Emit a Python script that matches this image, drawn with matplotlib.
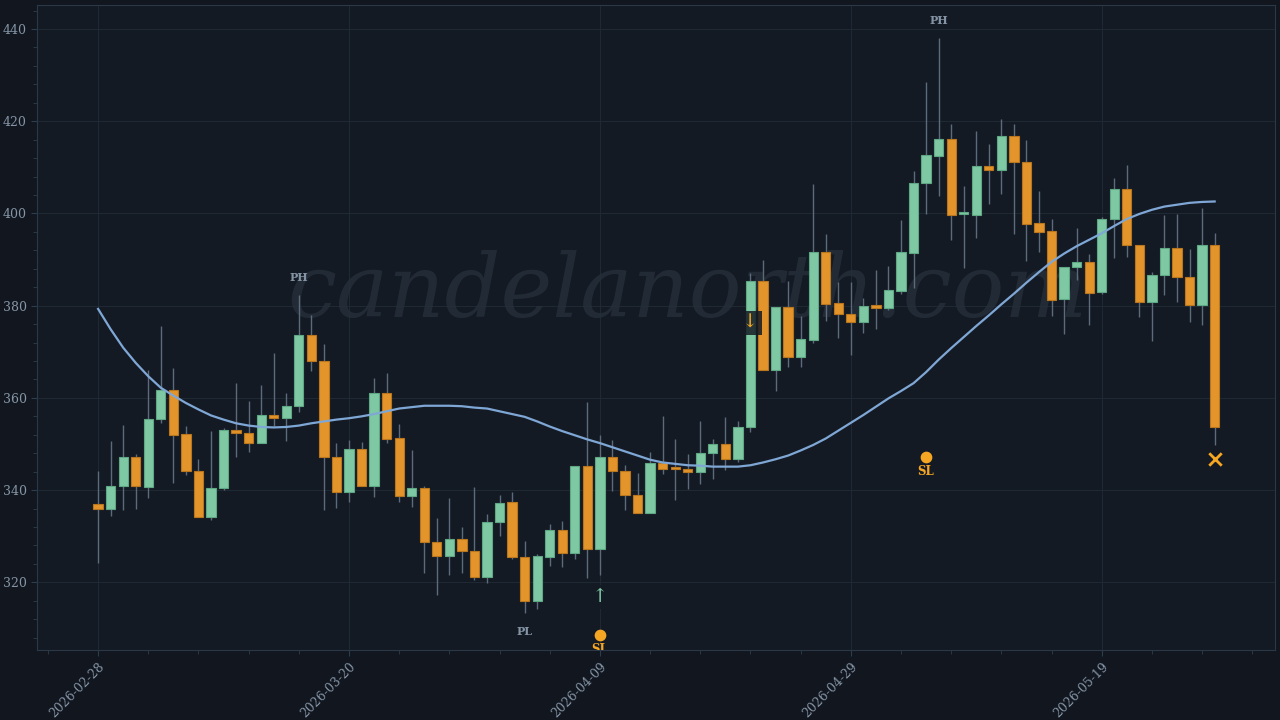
import numpy as np
import pandas as pd
import matplotlib
matplotlib.use("Agg")
import matplotlib.pyplot as plt
import matplotlib.dates as mdates

# daily OHLC, 2026-02-28 .. 2026-05-28
dates = pd.date_range("2026-02-28", periods=90, freq="D")

opens = [337.1, 336.0, 340.9, 347.1, 340.7, 355.4, 361.7, 352.1, 344.2, 334.2,
         340.4, 353.0, 352.3, 350.3, 356.4, 355.6, 358.2, 373.7, 368.1, 347.1,
         339.5, 348.9, 340.8, 361.1, 351.3, 338.8, 340.4, 328.7, 325.8, 329.3,
         326.8, 321.2, 333.2, 337.4, 325.6, 316.0, 325.6, 331.3, 326.3, 345.2,
         327.2, 347.2, 344.2, 339.0, 335.0, 345.8, 344.7, 344.6, 343.9, 348.0,
         349.9, 346.8, 353.6, 385.3, 366.1, 379.8, 368.8, 372.5, 391.7, 380.5,
         378.3, 376.4, 380.0, 379.4, 383.1, 391.5, 406.7, 412.5, 416.1, 399.8,
         399.7, 410.4, 409.4, 416.7, 411.2, 398.0, 396.1, 381.4, 388.4, 389.5,
         382.9, 398.8, 405.2, 393.2, 380.8, 386.6, 392.6, 386.3, 380.2, 393.2]
highs = [344.2, 350.7, 354.1, 347.8, 366.0, 375.5, 366.4, 354.0, 346.7, 352.8,
         353.5, 363.3, 359.3, 362.9, 369.8, 361.0, 382.3, 378.0, 371.6, 350.3,
         350.9, 350.4, 364.4, 365.5, 354.4, 348.7, 341.0, 334.0, 338.3, 331.9,
         340.6, 334.9, 338.9, 339.7, 328.9, 326.2, 332.6, 333.3, 345.2, 359.1,
         351.9, 350.9, 345.4, 343.8, 348.3, 356.0, 351.1, 347.8, 355.1, 351.2,
         355.9, 355.1, 387.1, 390.0, 379.8, 385.3, 377.8, 406.4, 395.5, 385.2,
         385.2, 381.6, 387.8, 388.6, 398.6, 409.2, 428.5, 438.0, 419.4, 406.0,
         417.9, 415.1, 420.5, 419.4, 415.9, 404.9, 398.9, 388.4, 396.9, 391.3,
         399.2, 407.6, 410.5, 393.2, 387.3, 399.6, 399.9, 392.4, 401.2, 395.8]
lows = [324.1, 334.3, 335.6, 336.0, 338.4, 354.5, 341.6, 343.2, 334.2, 333.6,
        340.1, 347.1, 348.3, 350.3, 354.0, 350.6, 357.0, 365.8, 335.8, 336.1,
        337.5, 340.8, 338.5, 350.2, 337.5, 336.4, 322.1, 317.3, 321.7, 322.0,
        320.6, 319.8, 330.0, 325.1, 313.4, 314.3, 323.6, 323.3, 325.0, 320.9,
        321.6, 339.8, 335.6, 335.0, 335.0, 343.4, 337.8, 340.2, 341.4, 342.4,
        344.3, 346.2, 352.7, 366.1, 361.6, 366.6, 366.7, 371.9, 376.6, 373.1,
        369.3, 374.0, 374.9, 379.1, 382.5, 383.8, 399.9, 403.8, 394.3, 388.2,
        394.6, 402.1, 404.3, 395.6, 389.7, 391.6, 377.8, 373.9, 385.6, 375.9,
        382.6, 390.3, 390.6, 377.5, 372.3, 382.4, 380.9, 376.5, 375.8, 349.7]
closes = [336.0, 340.9, 347.1, 340.9, 355.5, 361.7, 352.0, 344.1, 334.2, 340.4,
          353.0, 352.3, 350.3, 356.4, 355.6, 358.3, 373.7, 368.1, 347.1, 339.5,
          348.9, 340.8, 361.1, 351.2, 338.8, 340.4, 328.7, 325.8, 329.3, 326.7,
          321.2, 333.2, 337.3, 325.4, 316.0, 325.8, 331.3, 326.3, 345.2, 327.2,
          347.2, 344.1, 338.9, 335.0, 345.8, 344.6, 344.5, 343.9, 348.1, 349.9,
          346.8, 353.6, 385.3, 366.1, 379.8, 368.8, 372.7, 391.7, 380.4, 378.3,
          376.4, 380.0, 379.6, 383.4, 391.7, 406.7, 412.6, 416.1, 399.7, 400.0,
          410.4, 409.4, 416.7, 411.1, 397.8, 395.9, 381.3, 388.5, 389.5, 382.8,
          398.8, 405.2, 393.2, 380.8, 386.7, 392.6, 386.2, 380.2, 393.2, 353.7]

# trend line (moving average) as drawn
ma = [379.3, 374.9, 370.9, 367.6, 364.7, 362.2, 360.5, 358.9, 357.5, 356.2,
      355.3, 354.5, 354.0, 353.7, 353.6, 353.7, 354.0, 354.5, 354.9, 355.3,
      355.6, 356.0, 356.5, 357.1, 357.7, 358.0, 358.3, 358.3, 358.3, 358.2,
      357.9, 357.7, 357.1, 356.5, 355.9, 354.9, 353.8, 352.8, 351.9, 351.0,
      350.2, 349.3, 348.4, 347.5, 346.6, 346.0, 345.7, 345.4, 345.3, 345.1,
      345.1, 345.1, 345.4, 346.0, 346.7, 347.5, 348.6, 349.8, 351.2, 352.9,
      354.6, 356.3, 358.1, 359.9, 361.5, 363.2, 365.6, 368.3, 370.8, 373.2,
      375.6, 377.9, 380.3, 382.6, 385.0, 387.3, 389.5, 391.3, 392.9, 394.3,
      395.7, 397.3, 398.8, 399.9, 400.8, 401.5, 401.9, 402.3, 402.5, 402.6]

# pivots and signals
ph_idx = [16, 67]
pl_idx = [34]
long_idx = [40]
short_idx = [52]
sl_idx = [40, 66]
sl_val = [308.5, 347.2]
exit_idx = [89]
exit_val = [346.8]

BG = "#11161f"
AX_BG = "#141a24"
GRID = "#1e2934"
TXT = "#8595a6"
GREEN = "#7ec8a4"
ORANGE = "#e3952b"
SIGNAL = "#f5a623"

plt.rcParams["font.family"] = ["DejaVu Serif"]

fig = plt.figure(figsize=(12.8, 7.2), dpi=100, facecolor=BG)
ax = fig.add_axes([0.029, 0.097, 0.967, 0.896], facecolor=AX_BG)

o = np.array(opens)
c = np.array(closes)
up = c >= o
body_lo = np.minimum(o, c)
body_h = np.maximum(np.abs(c - o), 0.5)
colors = np.where(up, GREEN, ORANGE)
edges = np.where(up, "#5fa884", "#b9761d")

ax.vlines(dates, lows, highs, color="#5b6b7b", linewidth=1, zorder=2)
ax.bar(dates, body_h, bottom=body_lo, width=0.74, color=colors,
       edgecolor=edges, linewidth=0.8, zorder=3)

ax.plot(dates, ma, color="#7fa7d6", linewidth=1.6, zorder=4)

# watermark
ax.text(0.525, 0.555, "candelanorth.com", transform=ax.transAxes,
        fontsize=63, style="italic", color="#27313c", alpha=0.75,
        ha="center", va="center", zorder=1)

for i in ph_idx:
    ax.annotate("PH", (dates[i], highs[i]), xytext=(0, 12),
                textcoords="offset pixels", ha="center", va="bottom",
                fontsize=8, fontweight="bold", color="#8494a5", zorder=5)
for i in pl_idx:
    ax.annotate("PL", (dates[i], lows[i]), xytext=(0, -13),
                textcoords="offset pixels", ha="center", va="top",
                fontsize=8, fontweight="bold", color="#8494a5", zorder=5)
for i in long_idx:
    ax.annotate("\u2191", (dates[i], lows[i]), xytext=(0, -22),
                textcoords="offset pixels", ha="center", va="center",
                fontsize=14, color=GREEN, zorder=6,
                bbox=dict(boxstyle="square,pad=0.15", fc=AX_BG, ec="none", alpha=0.85))
for i in short_idx:
    ax.annotate("\u2193", (dates[i], highs[i]), xytext=(0, -50),
                textcoords="offset pixels", ha="center", va="center",
                fontsize=14, color=SIGNAL, zorder=6,
                bbox=dict(boxstyle="square,pad=0.15", fc=AX_BG, ec="none", alpha=0.85))

sl_dates = [dates[i] for i in sl_idx]
ax.scatter(sl_dates, sl_val, s=55, color=SIGNAL, zorder=6)
for d, v in zip(sl_dates, sl_val):
    ax.annotate("SL", (d, v), xytext=(0, -8), textcoords="offset pixels",
                ha="center", va="top", fontsize=8.5, fontweight="bold",
                color=SIGNAL, zorder=6, annotation_clip=False, clip_on=True)

ax.scatter([dates[i] for i in exit_idx], exit_val, marker="x", s=80,
           linewidths=2, color=SIGNAL, zorder=6)

ax.set_xlim(dates[0] - pd.Timedelta(days=4.86), dates[0] + pd.Timedelta(days=93.8))
ax.set_ylim(305.3, 445.2)

ax.set_xticks(dates[::20])
ax.set_xticks(pd.date_range("2026-02-24", "2026-06-01", freq="4D"), minor=True)
ax.xaxis.set_major_formatter(mdates.DateFormatter("%Y-%m-%d"))
ax.set_yticks(np.arange(320, 441, 20))
ax.set_yticks(np.arange(308, 445, 4), minor=True)

for lbl in ax.get_xticklabels():
    lbl.set_rotation(45)
    lbl.set_ha("right")
    lbl.set_rotation_mode("anchor")

ax.tick_params(which="both", colors="#2e3d4c", labelcolor=TXT, labelsize=9)
ax.tick_params(which="major", length=4)
ax.tick_params(which="minor", length=3)
ax.grid(True, which="major", color=GRID, linewidth=0.8)
ax.set_axisbelow(True)
for s in ax.spines.values():
    s.set_color("#2a3847")

fig.savefig("out.png", dpi=100, facecolor=BG)
